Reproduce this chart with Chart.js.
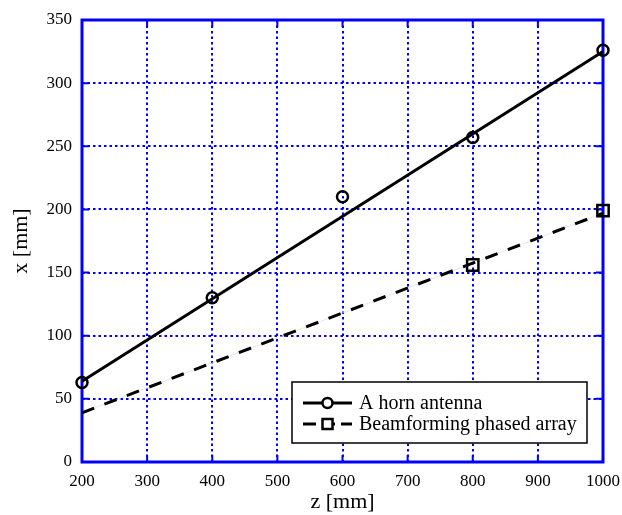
<!DOCTYPE html>
<html>
<head>
<meta charset="utf-8">
<script src="https://cdn.jsdelivr.net/npm/chart.js@4"></script>
<style>
  html, body { margin: 0; padding: 0; background: #fff; }
  #wrap { width: 622px; height: 515px; }
</style>
</head>
<body>
<div id="wrap"><canvas id="c" width="622" height="515"></canvas></div>
<script>
// valori
const zPoints = [200, 400, 600, 800, 1000];
const hornX = [63, 130, 210, 257, 326];
const beamZ = [800, 1000];
const beamX = [156, 199];
// rette di fit
const fitZ = [200, 1000];
const hornFit = [64, 325];
const beamFit = [39, 197];

const xTicks = [200, 300, 400, 500, 600, 700, 800, 900, 1000];
const yTicks = [0, 50, 100, 150, 200, 250, 300, 350];

const BLUE = '#0000ff';
const FONT = "'Liberation Serif', 'Times New Roman', serif";
const DASH = [13, 11];

const pts = (xs, ys) => xs.map((v, i) => ({ x: v, y: ys[i] }));

// cornice blu con tacche interne
const framePlugin = {
    id: 'frame',
    beforeDatasetsDraw(chart) {
        const { ctx, chartArea: a, scales: { x, y } } = chart;
        ctx.save();
        ctx.strokeStyle = BLUE;
        ctx.lineWidth = 2;
        ctx.beginPath();
        xTicks.forEach(v => {
            const px = x.getPixelForValue(v);
            ctx.moveTo(px, a.bottom); ctx.lineTo(px, a.bottom - 7);
            ctx.moveTo(px, a.top); ctx.lineTo(px, a.top + 7);
        });
        yTicks.forEach(v => {
            const py = y.getPixelForValue(v);
            ctx.moveTo(a.left, py); ctx.lineTo(a.left + 7, py);
            ctx.moveTo(a.right, py); ctx.lineTo(a.right - 7, py);
        });
        ctx.stroke();
        ctx.lineWidth = 3;
        ctx.strokeRect(a.left, a.top, a.right - a.left, a.bottom - a.top);
        ctx.restore();
    }
};

// legenda dentro l'area del grafico, in basso a destra
const legendPlugin = {
    id: 'boxLegend',
    afterDraw(chart) {
        const { ctx, chartArea: a } = chart;
        const right = a.right - 16, bottom = a.bottom - 19;
        const w = 295, h = 61;
        const left = right - w, top = bottom - h;
        ctx.save();
        ctx.fillStyle = '#fff';
        ctx.fillRect(left, top, w, h);
        ctx.strokeStyle = '#000';
        ctx.lineWidth = 1.5;
        ctx.strokeRect(left, top, w, h);

        const items = [
            { label: 'A horn antenna', dash: [], marker: 'circle', y: top + 21 },
            { label: 'Beamforming phased array', dash: [13, 6], marker: 'rect', y: top + 42 }
        ];
        items.forEach(it => {
            const x0 = left + 11, x1 = left + 60, xm = (x0 + x1) / 2;
            ctx.strokeStyle = '#000';
            ctx.lineWidth = 3;
            ctx.setLineDash(it.dash);
            ctx.beginPath();
            ctx.moveTo(x0, it.y); ctx.lineTo(x1, it.y);
            ctx.stroke();
            ctx.setLineDash([]);
            ctx.lineWidth = 2.5;
            ctx.beginPath();
            if (it.marker === 'circle') ctx.arc(xm, it.y, 5, 0, Math.PI * 2);
            else ctx.rect(xm - 5, it.y - 5, 10, 10);
            ctx.fillStyle = '#fff';
            ctx.fill();
            ctx.stroke();
            ctx.fillStyle = '#000';
            ctx.font = '20px ' + FONT;
            ctx.textBaseline = 'middle';
            ctx.textAlign = 'left';
            ctx.fillText(it.label, left + 67, it.y + 1);
        });
        ctx.restore();
    }
};

// Chart.js disegna per ultimo il dataset con indice 0: i marker stanno in cima
const ctx = document.getElementById('c').getContext('2d');
new Chart(ctx, {
    type: 'line',
    data: {
        datasets: [
            {
                label: 'A horn antenna',
                data: pts(zPoints, hornX),
                showLine: false, pointStyle: 'circle', pointRadius: 5.5,
                pointBorderWidth: 2.5, pointBorderColor: '#000',
                pointBackgroundColor: 'rgba(0,0,0,0)', clip: false
            },
            {
                label: 'Beamforming phased array',
                data: pts(beamZ, beamX),
                showLine: false, pointStyle: 'rect', pointRadius: 8,
                pointBorderWidth: 2.5, pointBorderColor: '#000',
                pointBackgroundColor: 'rgba(0,0,0,0)', clip: false
            },
            {
                label: 'horn-fit',
                data: pts(fitZ, hornFit),
                borderColor: '#000', borderWidth: 3,
                pointRadius: 0, fill: false
            },
            {
                label: 'beam-fit',
                data: pts(fitZ, beamFit),
                borderColor: '#000', borderWidth: 3,
                borderDash: DASH, pointRadius: 0, fill: false
            },
            {
                label: 'beam-thin',
                data: pts(fitZ, beamFit),
                borderColor: '#dcdcdc', borderWidth: 0.7,
                pointRadius: 0, fill: false
            }
        ]
    },
    options: {
        responsive: false,
        animation: false,
        layout: { padding: { left: 0, right: 19, top: 20, bottom: 0 } },
        plugins: { legend: { display: false }, tooltip: { enabled: false } },
        scales: {
            x: {
                type: 'linear', min: 200, max: 1000,
                afterFit: s => { s.height = 53; s.paddingRight = 0; s.paddingLeft = 0; },
                border: { display: false, dash: [2.5, 3] },
                grid: { color: BLUE, lineWidth: 2, drawTicks: false },
                ticks: { stepSize: 100, padding: 9, color: '#000', font: { family: FONT, size: 17 }, maxRotation: 0,
                         callback: v => String(v) },
                title: { display: true, text: 'z [mm]', color: '#000', font: { family: FONT, size: 22 }, padding: { top: 0, bottom: 0 } }
            },
            y: {
                type: 'linear', min: 0, max: 350,
                afterFit: s => { s.width = 82; s.paddingTop = 0; s.paddingBottom = 0; },
                border: { display: false, dash: [2.5, 3] },
                grid: { color: BLUE, lineWidth: 2, drawTicks: false },
                ticks: { stepSize: 50, padding: 10, color: '#000', font: { family: FONT, size: 17 } },
                title: { display: true, text: 'x [mm]', color: '#000', font: { family: FONT, size: 22 }, padding: { top: 8, bottom: 0 } }
            }
        }
    },
    plugins: [framePlugin, legendPlugin]
});
</script>
</body>
</html>
